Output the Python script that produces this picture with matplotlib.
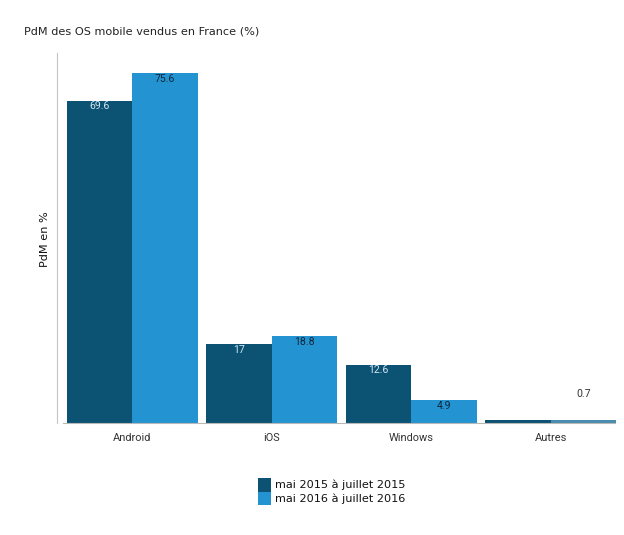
import matplotlib
matplotlib.use("Agg")
import matplotlib.pyplot as plt
import numpy as np
from matplotlib.patches import Rectangle

categories = ["Android", "iOS", "Windows", "Autres"]
series_2015 = [69.6, 17, 12.6, 0.7]
series_2016 = [75.6, 18.8, 4.9, 0.7]
labels_2015 = ["69.6", "17", "12.6", ""]
labels_2016 = ["75.6", "18.8", "4.9", "0.7"]
legend_labels = ["mai 2015 à juillet 2015", "mai 2016 à juillet 2016"]

DARK = "#0b5273"
BLUE = "#2394d1"
W, H = 624, 535

plt.rcParams["font.family"] = "DejaVu Sans"
fig = plt.figure(figsize=(W / 100, H / 100), dpi=100)

# axes placed in pixels, same frame as the reference
left, right, top, bottom = 62.8, 620.2, 53, 423
ax = fig.add_axes([left / W, 1 - bottom / H, (right - left) / W, (bottom - top) / H])

x = np.arange(len(categories))
bw = 0.47
ax.bar(x - bw / 2, series_2015, bw, color=DARK, linewidth=0)
bars2 = ax.bar(x + bw / 2, series_2016, bw, color=BLUE, linewidth=0)
bars2[3].set_facecolor("#4a8cb0")

ax.set_xlim(-0.5, 3.5)
ax.set_ylim(0, 79.9)
ax.set_yticks([])
ax.set_xticks(x)
ax.set_xticklabels(categories, family="Roboto", fontsize=7.9, color="#333333")
ax.tick_params(axis="x", length=0, pad=7.5)

for s in ["top", "right"]:
    ax.spines[s].set_visible(False)
ax.spines["left"].set_position(("outward", 5.5 * 0.72))
ax.spines["left"].set_color("#c4c4c4")
ax.spines["bottom"].set_color("#b8b8b8")
ax.spines["bottom"].set_bounds(-0.5, 3.465)

for i, (v, lab) in enumerate(zip(series_2015, labels_2015)):
    if lab:
        ax.annotate(lab, (i - bw / 2, v), xytext=(0, -0.5), textcoords="offset points",
                    ha="center", va="top", family="Roboto", fontsize=7.6, color="#d5e6f0")
for i, (v, lab) in enumerate(zip(series_2016, labels_2016)):
    if i == 3:
        ax.annotate(lab, (i + bw / 2, v), xytext=(0, 15), textcoords="offset points",
                    ha="center", va="bottom", family="Roboto", fontsize=7.6, color="#333333")
    else:
        ax.annotate(lab, (i + bw / 2, v), xytext=(0, -0.5), textcoords="offset points",
                    ha="center", va="top", family="Roboto", fontsize=7.6, color="#10263a")

fig.text(24 / W, 1 - 32 / H, "PdM des OS mobile vendus en France (%)", fontsize=8.1,
         color="#222222", ha="left", va="center")
fig.text(45 / W, 1 - 239 / H, "PdM en %", fontsize=8.1, color="#111111", rotation=90,
         ha="center", va="center")

# legend
for y0, c, t in zip([478, 491.5], [DARK, BLUE], legend_labels):
    fig.patches.append(Rectangle((258 / W, 1 - (y0 + 13.5) / H), 13 / W, 13.5 / H,
                                 transform=fig.transFigure, color=c, lw=0))
    fig.text(275 / W, 1 - (y0 + 7) / H, t, fontsize=8.1, color="#111111", ha="left", va="center")

fig.savefig("out.png", dpi=100)
